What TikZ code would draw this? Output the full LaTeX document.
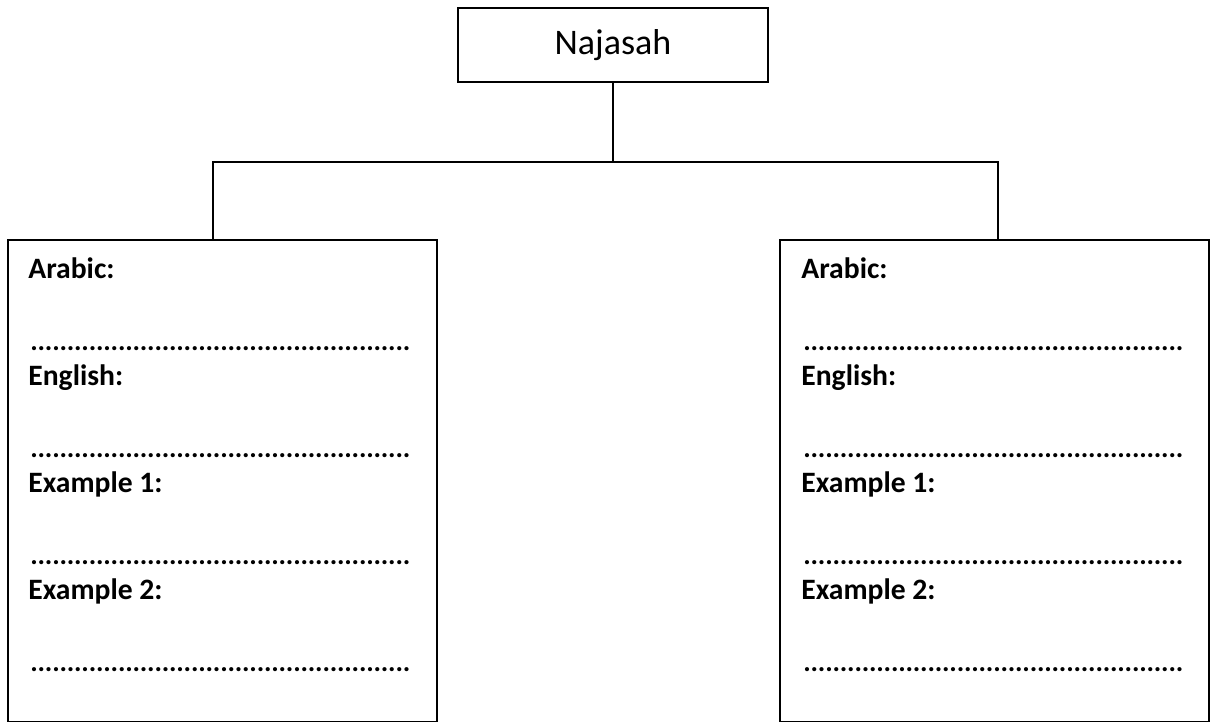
\documentclass[tikz,border=0pt]{standalone}
\usepackage{fontspec}
\setmainfont{Carlito}
\usetikzlibrary{positioning}

% a row of dots to write on
\newcommand\fillin{\hbox to 190pt{\xleaders\hbox to 3.6pt{\hss.\hss}\hfill}}

\begin{document}
\begin{tikzpicture}[x=0.5pt,y=-0.5pt,
  box/.style={draw,line width=0.9pt,inner sep=0pt},
  field/.style={anchor=base west,inner sep=0pt,font=\fontsize{14.8}{17}\selectfont\bfseries},
  dots/.style={anchor=base west,inner sep=0pt,font=\fontsize{14}{16}\selectfont\bfseries}]
  \useasboundingbox (0,0) rectangle (1210,722);

  % title and the two boxes
  \node[box,minimum width=155pt,minimum height=37pt,font=\fontsize{18}{20}\selectfont]
    (najasah) at (613,45) {Najasah};
  \node[box,minimum width=214.5pt,minimum height=241pt] (leftbox) at (222.5,481) {};
  \node[box,minimum width=214.5pt,minimum height=241pt] (rightbox) at (994.5,481) {};

  % connectors
  \coordinate (lj) at (213,162);
  \coordinate (rj) at (998,162);
  \draw[line width=0.9pt] (najasah.south) -- (najasah.south |- lj);
  \draw[line width=0.9pt] (leftbox.north -| lj) -- (lj) -- (rj) -- (rightbox.north -| rj);

  % fields
  \foreach \side/\tx in {l/28, r/801} {
    \foreach \lbl [count=\i from 0] in {Arabic:,English:,Example 1:,Example 2:} {
      \node[field] (\side f\i) at (\tx,{278+107.3*\i}) {\lbl};
      \node[dots] (\side d\i) at (\tx+2,{350+107.3*\i}) {\fillin};
    }
  }
\end{tikzpicture}
\end{document}
